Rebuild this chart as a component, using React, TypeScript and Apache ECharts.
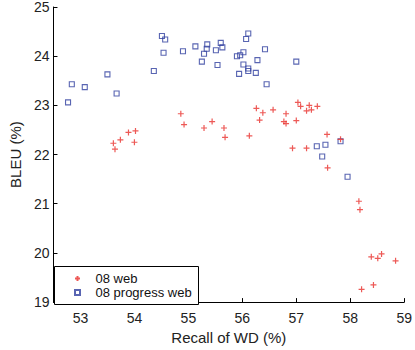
import React, { useEffect, useRef } from "react";
import * as echarts from "echarts";

const webSeriesName = "08 web";
const progressSeriesName = "08 progress web";

const webPoints: [number, number][] = [
  [53.61, 22.23], [53.64, 22.11], [53.74, 22.30], [53.89, 22.45], [54.02, 22.48],
  [54.00, 22.25], [54.86, 22.83], [54.92, 22.61], [55.29, 22.54], [55.44, 22.67],
  [55.66, 22.54], [55.68, 22.35], [56.13, 22.38], [56.26, 22.94], [56.38, 22.85],
  [56.32, 22.70], [56.57, 22.91], [56.81, 22.83], [56.77, 22.67], [56.81, 22.63],
  [57.00, 22.69], [57.03, 23.06], [57.08, 22.98], [57.24, 23.00], [57.19, 22.89],
  [57.28, 22.91], [57.39, 22.98], [57.57, 22.41], [56.93, 22.13], [57.19, 22.13],
  [57.82, 22.31], [57.58, 21.73], [58.16, 21.05], [58.18, 20.88], [58.39, 19.92],
  [58.51, 19.89], [58.58, 19.98], [58.84, 19.84], [58.43, 19.35], [58.21, 19.26],
];

const progressPoints: [number, number][] = [
  [52.77, 23.06], [52.84, 23.43], [53.08, 23.37], [53.50, 23.63], [53.67, 23.24],
  [54.36, 23.70], [54.51, 24.41], [54.57, 24.34], [54.54, 24.07], [54.90, 24.10],
  [55.13, 24.20], [55.25, 23.89], [55.29, 24.05], [55.34, 24.15], [55.35, 24.24],
  [55.60, 24.27], [55.63, 24.18], [55.51, 24.12], [55.54, 23.82], [55.90, 24.00],
  [55.96, 24.02], [56.02, 24.08], [56.11, 24.46], [56.07, 24.35], [56.02, 23.83],
  [55.94, 23.64], [56.11, 23.75], [56.11, 23.70], [56.25, 23.66], [56.28, 23.92],
  [56.42, 24.14], [56.45, 23.43], [57.00, 23.89], [57.38, 22.17], [57.54, 22.20],
  [57.48, 21.96], [57.82, 22.27], [57.95, 21.55],
];

const xTicks = [53, 54, 55, 56, 57, 58, 59];
const yTicks = [19, 20, 21, 22, 23, 24, 25];

const RED = "#e8302c";
const BLUE = "#2f3f9f";
const FONT = "Liberation Sans, Arial, sans-serif";
const CROSS = "path://M0,5L10,5M5,0L5,10";
const SQUARE = "path://M0,0L10,0L10,10L0,10Z";

export default function App() {
  const ref = useRef<HTMLDivElement>(null);
  useEffect(() => {
    if (!ref.current) return;
    const chart = echarts.init(ref.current, undefined, { renderer: "svg" });
    chart.setOption({
      animation: false,
      backgroundColor: "#fff",
      grid: { left: 49, right: 10, top: 7, bottom: 40, containLabel: false },
      xAxis: {
        type: "value",
        min: 52.5,
        max: 59,
        name: "Recall of WD (%)",
        nameLocation: "middle",
        nameGap: 25,
        nameTextStyle: { fontSize: 15, color: "#222", fontFamily: FONT },
        axisLine: { show: true, lineStyle: { color: "#000", width: 1 } },
        axisTick: { show: true, inside: true, length: 4, customValues: xTicks, lineStyle: { color: "#000" } },
        axisLabel: { customValues: xTicks, fontSize: 14, color: "#222", fontFamily: FONT, margin: 9 },
        splitLine: { show: false },
      },
      yAxis: {
        type: "value",
        min: yTicks[0],
        max: yTicks[yTicks.length - 1],
        interval: 1,
        name: "BLEU (%)",
        nameLocation: "middle",
        nameGap: 27,
        nameTextStyle: { fontSize: 15, color: "#222", fontFamily: FONT },
        axisLine: { show: true, lineStyle: { color: "#000", width: 1 } },
        axisTick: { show: true, inside: true, length: 4, lineStyle: { color: "#000" } },
        axisLabel: { fontSize: 14, color: "#222", fontFamily: FONT, margin: 4 },
        splitLine: { show: false },
      },
      legend: {
        orient: "vertical",
        left: 74,
        top: 272,
        padding: 0,
        itemWidth: 12,
        itemHeight: 5,
        itemGap: 1,
        textStyle: { fontSize: 13, color: "#111", fontFamily: FONT, padding: [0, 0, 0, 7] },
        data: [
          { name: webSeriesName, icon: CROSS },
          { name: progressSeriesName, icon: SQUARE },
        ],
        z: 10,
      },
      graphic: [
        {
          type: "rect",
          left: 54,
          top: 266,
          shape: { width: 144, height: 38 },
          style: { fill: "#fff", stroke: "#000", lineWidth: 1 },
          z: 5,
        },
      ],
      series: [
        {
          name: webSeriesName,
          type: "scatter",
          data: webPoints,
          symbol: CROSS,
          symbolSize: 6,
          itemStyle: { color: "rgba(0,0,0,0)", borderColor: RED, borderWidth: 1.2 },
          z: 3,
        },
        {
          name: progressSeriesName,
          type: "scatter",
          data: progressPoints,
          symbol: SQUARE,
          symbolSize: 5,
          itemStyle: { color: "rgba(0,0,0,0)", borderColor: BLUE, borderWidth: 1.1 },
          z: 2,
        },
      ],
    });
    return () => chart.dispose();
  }, []);
  return <div ref={ref} style={{ width: 415, height: 350, position: "absolute", left: 0, top: 0 }} />;
}
